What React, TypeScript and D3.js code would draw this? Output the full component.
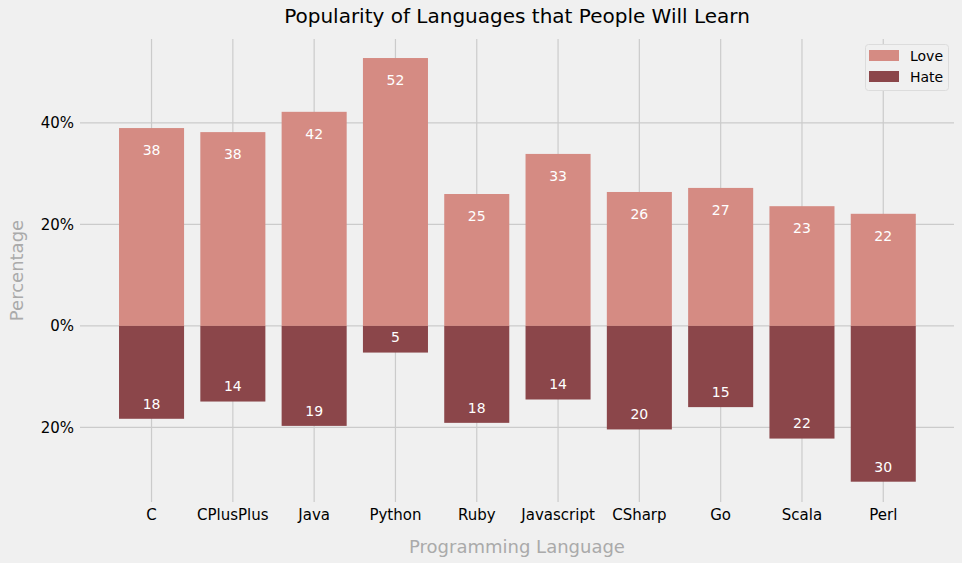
import * as d3 from "d3";

// languages on the x axis
const languages = ["C", "CPlusPlus", "Java", "Python", "Ruby", "Javascript", "CSharp", "Go", "Scala", "Perl"];

// bar heights (percent)
const loveValues = [39.0, 38.2, 42.2, 52.8, 26.0, 33.9, 26.4, 27.2, 23.6, 22.1];
const hateValues = [18.3, 14.9, 19.7, 5.25, 19.1, 14.5, 20.4, 16.0, 22.2, 30.7];

// numbers printed on the bars
const loveLabels = [38, 38, 42, 52, 25, 33, 26, 27, 23, 22];
const hateLabels = [18, 14, 19, 5, 18, 14, 20, 15, 22, 30];

// y ticks (value, label)
const yTicks = [-20, 0, 20, 40];
const yTickLabels = ["20%", "0%", "20%", "40%"];

const W = 962;
const H = 563;
const font = "DejaVu Sans, sans-serif";

export default function App() {
  // plot area
  const left = 80, right = 954, top = 39, bottom = 502;

  const x = d3.scaleLinear().domain([-0.88, 9.87]).range([left, right]);
  const y = d3.scaleLinear().domain([-34.7, 56.55]).range([bottom, top]);
  const step = x(1) - x(0);
  const bw = step * 0.8;

  const loveColor = "#d58b83";
  const hateColor = "#8b464a";
  const grid = "#cbcbcb";

  return (
    <svg width={W} height={H} style={{ position: "fixed", left: 0, top: 0 }} fontFamily={font}>
      <rect width={W} height={H} fill="#f0f0f0" />

      {/* grid lines */}
      {yTicks.map((t, i) => (
        <line key={"gy" + i} x1={left} x2={right} y1={y(t)} y2={y(t)} stroke={grid} strokeWidth={1.2} />
      ))}
      {languages.map((l, i) => (
        <line key={"gx" + i} x1={x(i)} x2={x(i)} y1={top} y2={bottom} stroke={grid} strokeWidth={1.2} />
      ))}

      {/* love bars */}
      {loveValues.map((v, i) => (
        <g key={"l" + i}>
          <rect x={x(i) - bw / 2} y={y(v)} width={bw} height={y(0) - y(v)} fill={loveColor} />
          <text x={x(i)} y={y(v) + 22} dy="0.35em" textAnchor="middle" fill="#fff" fontSize={14}>
            {loveLabels[i]}
          </text>
        </g>
      ))}

      {/* hate bars */}
      {hateValues.map((v, i) => (
        <g key={"h" + i}>
          <rect x={x(i) - bw / 2} y={y(0)} width={bw} height={y(-v) - y(0)} fill={hateColor} />
          <text x={x(i)} y={y(-v) - 15} dy="0.35em" textAnchor="middle" fill="#fff" fontSize={14}>
            {hateLabels[i]}
          </text>
        </g>
      ))}

      {/* y tick labels */}
      {yTicks.map((t, i) => (
        <text key={"yt" + i} x={left - 6} y={y(t)} dy="0.35em" textAnchor="end" fontSize={15} fill="#000">
          {yTickLabels[i]}
        </text>
      ))}

      {/* x tick labels */}
      {languages.map((l, i) => (
        <text key={"xt" + i} x={x(i)} y={515} dy="0.35em" textAnchor="middle" fontSize={15} fill="#000">
          {l}
        </text>
      ))}

      {/* axis titles */}
      <text x={(left + right) / 2} y={547} dy="0.35em" textAnchor="middle" fontSize={18} fill="#aaaaaa">
        Programming Language
      </text>
      <text
        transform={`translate(17, ${(top + bottom) / 2}) rotate(-90)`}
        dy="0.35em"
        textAnchor="middle"
        fontSize={18}
        fill="#aaaaaa"
      >
        Percentage
      </text>

      {/* title */}
      <text x={(left + right) / 2} y={16} dy="0.35em" textAnchor="middle" fontSize={20} fill="#000">
        Popularity of Languages that People Will Learn
      </text>

      {/* legend */}
      <g>
        <rect x={865.5} y={44.5} width={83} height={46} rx={3} fill="#f0f0f0" stroke="#dcdcdc" />
        <rect x={869} y={50} width={30} height={11} fill={loveColor} />
        <rect x={869} y={71} width={30} height={11} fill={hateColor} />
        <text x={910} y={56} dy="0.35em" fontSize={14} fill="#000">Love</text>
        <text x={910} y={77} dy="0.35em" fontSize={14} fill="#000">Hate</text>
      </g>
    </svg>
  );
}
